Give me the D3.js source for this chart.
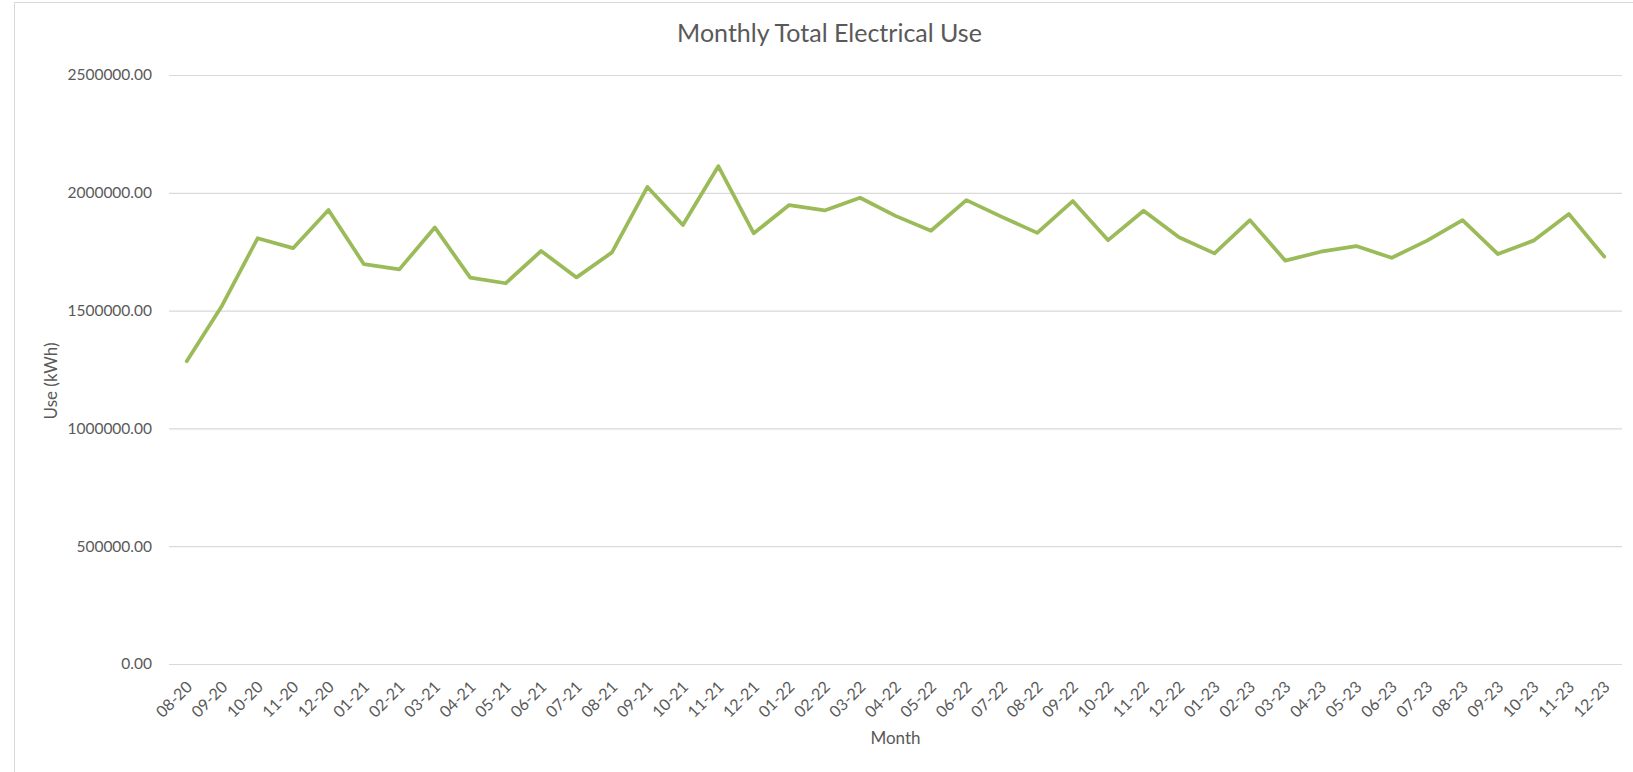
<!DOCTYPE html>
<html lang="en">
<head>
<meta charset="UTF-8">
<title>Monthly Total Electrical Use</title>
<style>
    body { margin: 0; background: #fff; }
    svg text { font-family: Lato, "Open Sans", sans-serif; fill: #595959; }
</style>
</head>
<body>
<script src="https://cdn.jsdelivr.net/npm/d3@7"></script>
<script>
    // months shown on the x axis
    var months = ["08-20","09-20","10-20","11-20","12-20",
        "01-21","02-21","03-21","04-21","05-21","06-21","07-21","08-21","09-21","10-21","11-21","12-21",
        "01-22","02-22","03-22","04-22","05-22","06-22","07-22","08-22","09-22","10-22","11-22","12-22",
        "01-23","02-23","03-23","04-23","05-23","06-23","07-23","08-23","09-23","10-23","11-23","12-23"];
    // use in kWh
    var use = [1285000, 1522000, 1807000, 1765000, 1927000,
        1697000, 1675000, 1853000, 1640000, 1616000, 1753000, 1641000, 1747000, 2025000, 1863000, 2113000, 1828000,
        1948000, 1925000, 1979000, 1902000, 1839000, 1969000, 1898000, 1830000, 1965000, 1799000, 1924000, 1811000,
        1743000, 1884000, 1712000, 1750000, 1774000, 1724000, 1797000, 1884000, 1740000, 1797000, 1910000, 1729000];
    var yTicks = [0, 500000, 1000000, 1500000, 2000000, 2500000];

    var w = 1633, h = 772;
    var plotL = 169, plotR = 1622, plotT = 75, plotB = 664;

    var svg = d3.select("body").append("svg")
        .attr("width", w)
        .attr("height", h);

    // chart border
    svg.append("rect")
        .attr("x", 14.5).attr("y", 2.5)
        .attr("width", w).attr("height", h)
        .attr("fill", "none")
        .attr("stroke", "#d9d9d9");

    var x = d3.scalePoint().domain(months).range([plotL, plotR]).padding(0.5);
    var y = d3.scaleLinear().domain([0, 2500000]).range([plotB, plotT]);

    // y axis + gridlines
    var yAxis = svg.append("g")
        .attr("transform", "translate(" + plotL + ",0)")
        .call(d3.axisLeft(y).tickValues(yTicks).tickSize(-(plotR - plotL)).tickPadding(17).tickFormat(d3.format(".2f")));
    yAxis.select(".domain").remove();
    yAxis.selectAll("line").attr("stroke", "#d9d9d9").attr("stroke-width", 1.2);
    yAxis.selectAll("text").attr("font-size", "15.5px").style("fill", "#595959");

    // x axis labels
    var xAxis = svg.append("g")
        .attr("transform", "translate(0," + plotB + ")")
        .call(d3.axisBottom(x).tickSize(0).tickPadding(0));
    xAxis.select(".domain").remove();
    xAxis.selectAll("text")
        .attr("font-size", "16px")
        .style("fill", "#595959")
        .attr("text-anchor", "end")
        .attr("dy", null)
        .attr("y", 0)
        .attr("transform", "translate(6,24) rotate(-45)");

    // line
    var line = d3.line()
        .x(function (d, i) { return x(months[i]); })
        .y(function (d) { return y(d); });
    svg.append("path")
        .datum(use)
        .attr("d", line)
        .attr("fill", "none")
        .attr("stroke", "#9bbb59")
        .attr("stroke-width", 3.75)
        .attr("stroke-linejoin", "round")
        .attr("stroke-linecap", "round");

    // titles
    svg.append("text")
        .attr("x", (plotL + plotR) / 2 - 66)
        .attr("y", 42)
        .attr("text-anchor", "middle")
        .attr("font-size", "25px")
        .text("Monthly Total Electrical Use");

    svg.append("text")
        .attr("x", (plotL + plotR) / 2)
        .attr("y", 744)
        .attr("text-anchor", "middle")
        .attr("font-size", "17px")
        .text("Month");

    svg.append("text")
        .attr("transform", "translate(57,381) rotate(-90)")
        .attr("text-anchor", "middle")
        .attr("font-size", "17px")
        .text("Use (kWh)");
</script>
</body>
</html>
